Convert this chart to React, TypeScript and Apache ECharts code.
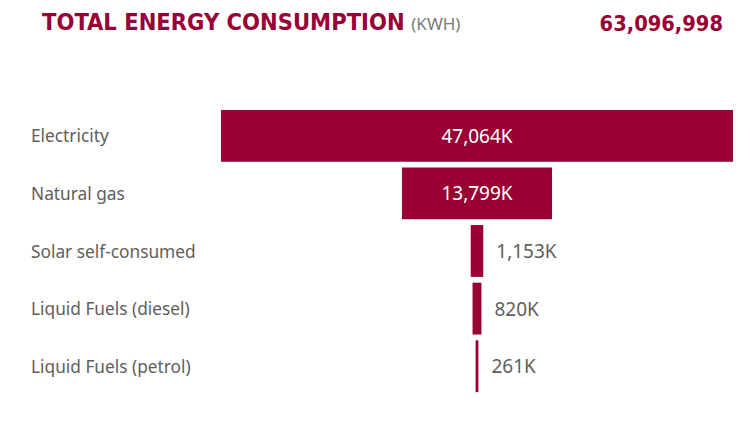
import React, { useEffect, useRef } from "react";
import * as echarts from "echarts";

const categories = [
  "Electricity",
  "Natural gas",
  "Solar self-consumed",
  "Liquid Fuels (diesel)",
  "Liquid Fuels (petrol)",
];
const valuesK = [47064, 13799, 1153, 820, 261];
const totalKwh = 63096998;
const titleText = "TOTAL ENERGY CONSUMPTION";
const unitText = "(KWH)";

const MAROON = "#990033";
const GRAY = "#605E5C";
const FONT = "'Noto Sans', 'Open Sans', sans-serif";
const COND = "'DejaVu Sans Condensed', 'Liberation Sans Narrow', sans-serif";

export default function App() {
  const ref = useRef<HTMLDivElement>(null);
  useEffect(() => {
    document.body.style.margin = "0";
    if (!ref.current) return;
    const chart = echarts.init(ref.current, null, { renderer: "svg" });
    const maxV = Math.max(...valuesK);
    const offsets = valuesK.map((v) => (maxV - v) / 2);
    const fmt = (v: number) => v.toLocaleString("en-US") + "K";
    chart.setOption({
      animation: false,
      textStyle: { fontFamily: FONT },
      title: [
        {
          text: `{a|${titleText}} {b|${unitText}}`,
          left: 37,
          top: 5,
          textStyle: {
            fontWeight: "normal",
            rich: {
              a: {
                fontFamily: COND,
                fontWeight: "bold",
                fontSize: 23.5,
                color: MAROON,
              },
              b: {
                fontFamily: FONT,
                fontWeight: "normal",
                fontSize: 17,
                color: "#7a7a7a",
                padding: [3, 0, 0, 2],
              },
            },
          },
        },
        {
          text: totalKwh.toLocaleString("en-US"),
          right: 22,
          top: 7,
          textStyle: {
            fontFamily: COND,
            fontWeight: "bold",
            fontSize: 21.7,
            color: MAROON,
          },
        },
      ],
      grid: { left: 221, right: 17, top: 107, bottom: 32 },
      xAxis: {
        type: "value",
        min: 0,
        max: maxV,
        show: false,
      },
      yAxis: {
        type: "category",
        data: categories,
        inverse: true,
        axisLine: { show: false },
        axisTick: { show: false },
        splitLine: { show: false },
        axisLabel: {
          align: "left",
          margin: 190,
          fontSize: 17.3,
          color: GRAY,
          fontFamily: FONT,
        },
      },
      series: [
        {
          type: "bar",
          stack: "f",
          data: offsets,
          itemStyle: { color: "transparent" },
          barCategoryGap: "10%",
          silent: true,
        },
        {
          type: "bar",
          stack: "f",
          barCategoryGap: "10%",
          itemStyle: { color: MAROON },
          data: valuesK.map((v) => {
            const inside = v / maxV > 0.1;
            return {
              value: v,
              label: inside
                ? { show: true, position: "inside", color: "#ffffff" }
                : { show: true, position: "right", distance: 13, color: GRAY },
            };
          }),
          label: {
            show: true,
            fontSize: 19,
            fontFamily: FONT,
            formatter: (p: any) => fmt(p.value),
          },
        },
      ],
    });
    return () => chart.dispose();
  }, []);
  return <div ref={ref} style={{ width: 750, height: 427 }} />;
}
